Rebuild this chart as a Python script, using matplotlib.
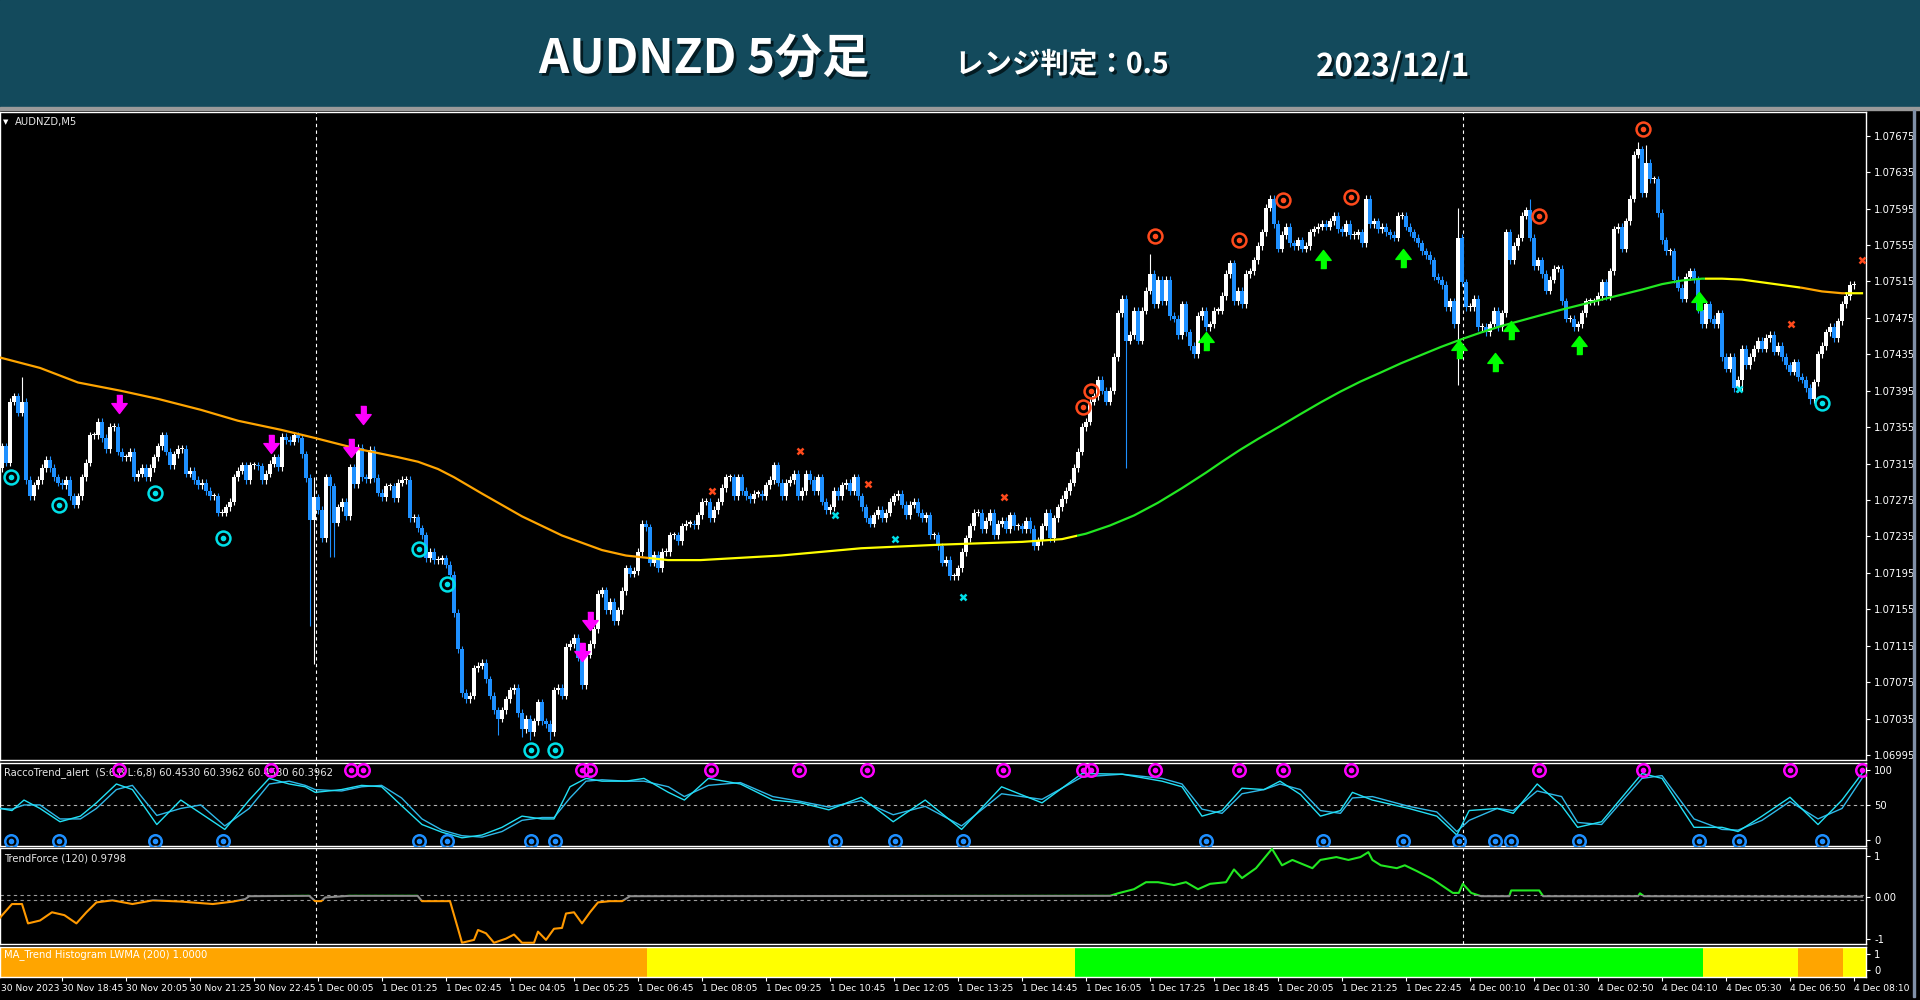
import numpy as np
import matplotlib
matplotlib.use("Agg")
import matplotlib.pyplot as plt
import matplotlib.patheffects as pe
from matplotlib.patches import Rectangle

# ---------------------------------------------------------------------------
# Data (AUDNZD M5, 30 Nov 17:25 .. 4 Dec 08:25)
# prices are in points (1e-5) above 1.07000
# ---------------------------------------------------------------------------
base_price = 1.07
first_open = 320

closes = [
    310, 334, 316, 383, 389, 371, 383, 297, 279, 291,
    297, 310, 319, 310, 300, 294, 291, 297, 279, 270,
    279, 300, 316, 346, 346, 361, 343, 331, 355, 355,
    328, 322, 322, 328, 300, 304, 310, 300, 310, 322,
    334, 346, 328, 313, 325, 331, 331, 304, 307, 297,
    291, 294, 285, 279, 279, 261, 261, 267, 273, 300,
    307, 313, 297, 313, 313, 312, 297, 304, 315, 322,
    311, 344, 341, 339, 346, 343, 325, 299, 253, 278,
    264, 233, 300, 290, 250, 267, 273, 257, 311, 292,
    332, 300, 298, 330, 299, 283, 278, 290, 290, 277,
    294, 297, 297, 255, 256, 244, 236, 211, 218, 209,
    209, 211, 204, 193, 151, 111, 63, 56, 60, 90,
    93, 96, 78, 60, 44, 35, 44, 56, 66, 69,
    41, 23, 35, 20, 32, 53, 32, 29, 20, 66,
    69, 60, 114, 117, 124, 102, 72, 105, 117, 133,
    172, 176, 154, 163, 142, 154,
    # 1 Dec morning onwards
    175, 200, 194, 197, 218, 249, 245, 206, 215, 200,
    218, 218, 236, 236, 230, 246, 249, 249, 247, 258,
    273, 273, 255, 264, 273, 288, 300, 300, 279, 300,
    285, 279, 276, 282, 282, 279, 291, 297, 313, 294,
    279, 294, 297, 304, 279, 285, 304, 297, 285, 300,
    273, 264, 267, 285, 279, 291, 294, 285, 300, 279,
    267, 255, 249, 258, 264, 255, 261, 273, 279, 282,
    270, 258, 270, 273, 261, 255, 258, 236, 236, 224,
    206, 209, 191, 191, 200, 218, 233, 246, 261, 261,
    243, 252, 261, 236, 249, 252, 243, 258, 246, 246,
    243, 252, 243, 224, 230, 246, 261, 233, 255, 267,
    276, 285, 294, 310, 328, 355, 361, 383, 389, 407,
    395, 383, 395, 432, 480, 496, 450, 456, 483, 450,
    483, 505, 523, 490, 517, 493, 517, 477, 474, 456,
    490, 459, 444, 435, 477, 483, 465, 468, 483, 483,
    499, 523, 535, 493, 505, 490,
    # 1 Dec evening and 4 Dec
    523, 526, 538, 554, 569, 596, 606, 578, 551, 566,
    575, 557, 554, 560, 551, 554, 569, 572, 575, 578,
    575, 581, 587, 572, 569, 578, 566, 566, 569, 557,
    606, 578, 581, 572, 575, 569, 566, 563, 587, 587,
    575, 569, 563, 557, 548, 544, 538, 520, 517, 511,
    487, 493, 468, 563, 514, 487, 487, 496, 465, 465,
    459, 468, 483, 465, 480, 569, 538, 554, 563, 587,
    593, 563, 532, 538, 523, 505, 517, 529, 529, 493,
    474, 474, 465, 468, 480, 493, 493, 493, 499, 514,
    499, 526, 572, 575, 551, 581, 606, 654, 660, 612,
    645, 627, 627, 590, 560, 548, 548, 517, 508, 496,
    520, 526, 517, 484, 468, 490, 474, 468, 480, 432,
    419, 432, 398, 407, 441, 423, 432, 441, 450, 441,
    453, 456, 438, 444, 432, 423, 416, 426, 410, 407,
    398, 386, 404, 435, 444, 459, 465, 453, 471, 490,
    499, 511, 511,
]

# long wicks that stand out: bar -> (high, low), None = ordinary wick
long_wicks = {
    6: (410, None), 78: (None, 137), 79: (300, 95), 83: (None, 212),
    84: (None, 212), 125: (None, 17), 131: (None, 15), 133: (None, 12),
    138: (None, 12), 282: (None, 310), 288: (545, None), 365: (596, 401),
    383: (606, None), 410: (668, None), 412: (665, None), 436: (None, 395),
    453: (None, 380),
}

# LWMA(200) line
ma_bars = [0, 10.5, 20, 30.6, 40, 50.7, 60, 70.8, 79.3, 90, 100, 105, 110, 114,
           121, 131, 141, 151, 157, 167.5, 175.6, 195.7, 215.8, 235.9, 256, 266,
           272, 278, 284, 290, 296, 302, 306, 310.5, 315, 320.5, 325.5, 330.6,
           335.6, 340.6, 345.7, 350.7, 355.7, 360.7, 366.2, 370.8, 375.8, 380.8,
           385.8, 390.9, 400.9, 411, 416, 421, 426, 431, 436, 441, 446, 451, 456,
           461, 466]
ma_pts = [432, 420, 404, 395, 386, 374, 362, 352, 343, 331, 322, 317, 309, 300,
          282, 257, 236, 220, 214, 209, 209, 214, 222, 226, 229, 232,
          238, 247, 258, 272, 288, 305, 317, 330, 342, 356, 369, 382,
          394, 405, 415, 425, 434, 443, 452, 459, 466, 472,
          478, 484, 495, 506, 512, 516, 518, 518, 517, 514, 511, 508, 504,
          502, 502]

# MA trend state (histogram + line colour)
trend_edges = [0, 162.7, 269.7, 426.7, 450.6, 461.7, 467]
trend_states = ["down", "flat", "up", "flat", "down", "flat"]

# signal markers on the price chart (bar, points)
dots_cyan = [(3.2, 300), (15.3, 270), (39.3, 283), (56.2, 233), (105.3, 221),
             (112.2, 183), (133.2, 0), (139.2, 0), (456.1, 382)]
dots_red = [(271.2, 377), (273.2, 395), (289.3, 565), (310.3, 560), (321.2, 604),
            (338.2, 608), (385.2, 587), (411.2, 682)]
arrows_down = [(30.3, 380), (68.3, 336), (88.3, 332), (91.2, 368), (146.1, 108),
               (148.1, 142)]
arrows_up = [(302.1, 450), (331.2, 540), (351.2, 541), (365.2, 441), (374.2, 426),
             (378.2, 462), (395.2, 445), (425.2, 494)]
cross_red = [(178.4, 285), (200.4, 329), (217.4, 293), (251.4, 278), (448.3, 468),
             (466, 538)]
cross_cyan = [(209.2, 258), (224.2, 232), (241.2, 169), (435.2, 397)]

# RaccoTrend_alert oscillator
racco_bars = [0.5, 3.5, 6.5, 10.5, 15.5, 20.6, 24.6, 29.6, 33.6, 39.7,
              45.7, 50.7, 56.7, 62.8, 67.8, 72.8, 76.8, 79.3, 85.9, 90.9,
              95.9, 100.9, 106, 111, 116, 121, 126, 131, 136, 139,
              143, 147, 151, 157, 161.5, 167.6, 171.6, 177.6, 185.6, 193.7,
              200.7, 207.7, 215.8, 223.8, 231.8, 240.9, 250.9, 261, 271, 281,
              291, 296, 301, 306, 311, 316.5, 320.5, 325.6, 330.6, 335.6,
              338.6, 343.6, 352.7, 359.7, 364.7, 367.8, 374.8, 378.8, 384.8, 390.9,
              394.9, 400.9, 411, 416, 424, 431, 435, 441, 448, 455,
              461, 466]
racco_main = [45, 42, 57, 45, 26, 34, 53, 80, 72, 22,
              57, 38, 15, 57, 88, 80, 76, 68, 72, 78,
              76, 49, 22, 11, 3, 7, 18, 34, 30, 30,
              76, 88, 84, 84, 88, 68, 57, 88, 80, 57,
              53, 43, 61, 26, 57, 15, 76, 53, 95, 94,
              84, 76, 34, 42, 74, 72, 84, 65, 34, 42,
              68, 57, 45, 34, 7, 42, 45, 38, 80, 49,
              18, 26, 95, 88, 18, 18, 12, 34, 61, 22,
              57, 95]
racco_signal = [45, 44, 50, 50, 30, 30, 45, 72, 78, 35,
                45, 50, 20, 45, 80, 84, 78, 72, 70, 76,
                78, 60, 30, 14, 6, 4, 12, 28, 32, 32,
                60, 84, 86, 84, 84, 76, 62, 78, 82, 62,
                55, 47, 56, 36, 48, 20, 66, 58, 90, 94,
                88, 80, 44, 38, 66, 72, 80, 72, 42, 38,
                60, 62, 48, 40, 12, 28, 45, 42, 70, 62,
                25, 22, 88, 92, 30, 15, 14, 28, 55, 30,
                45, 88]
racco_top = [30.3, 68.3, 88.3, 91.2, 146.1, 148.1, 178.3, 200.2, 217.2, 251.2,
             271.2, 273.2, 289.3, 310.3, 321.2, 338.2, 385.2, 411.2, 448.1, 466]
racco_bottom = [3.2, 15.3, 39.3, 56.2, 105.3, 112.2, 133.2, 139.2, 209.2, 224.2,
                241.2, 302.1, 331.2, 351.2, 365.2, 374.2, 378.2, 395.2, 425.2,
                435.2, 456.1]

# TrendForce(120)
tf_bars = [0.5, 3.5, 6, 7.5, 10.5, 13.5, 16.6, 19.6, 22.1, 24.6,
           28.6, 33.6, 38.7, 45.7, 53.7, 58.8, 61.8, 62.8, 77.8, 79.3,
           80.8, 81.8, 87.9, 104.9, 106, 113, 115, 116, 119, 120,
           122, 124, 127, 129, 131, 134, 135, 137, 139, 141,
           142, 144, 146, 148, 150, 153, 156, 158, 278, 280,
           284, 287, 290, 294, 297, 300, 303, 307, 309, 311,
           314.5, 318.5, 321, 323.6, 328.6, 330.6, 334.6, 337.6, 340.6, 342.6,
           343.6, 345.7, 349.7, 351.7, 354.7, 358.7, 363.7, 365.2, 366.2, 368.3,
           370.8, 377.8, 378.3, 385.3, 386.3, 410, 410.5, 411.5, 466]
tf_vals = [-0.49, -0.16, -0.16, -0.63, -0.56, -0.36, -0.43, -0.63, -0.36, -0.12,
           -0.07, -0.16, -0.07, -0.10, -0.16, -0.10, -0.04, 0.03, 0.04, -0.09,
           -0.09, 0.0, 0.04, 0.04, -0.09, -0.09, -0.76, -1.1, -1.03, -0.79,
           -0.87, -1.1, -1.0, -0.9, -1.1, -1.1, -0.83, -1.03, -0.76, -0.74,
           -0.39, -0.36, -0.63, -0.36, -0.12, -0.09, -0.09, 0.03, 0.04, 0.1,
           0.2, 0.37, 0.37, 0.3, 0.37, 0.2, 0.33, 0.37, 0.68, 0.47,
           0.71, 1.18, 0.78, 0.91, 0.71, 0.91, 0.98, 0.91, 0.98, 1.1,
           0.91, 0.78, 0.71, 0.78, 0.64, 0.44, 0.11, 0.11, 0.33, 0.11,
           0.03, 0.03, 0.17, 0.17, 0.03, 0.03, 0.1, 0.03, 0.02]

# time axis
time_labels = ["30 Nov 2023", "30 Nov 18:45", "30 Nov 20:05", "30 Nov 21:25",
               "30 Nov 22:45", "1 Dec 00:05", "1 Dec 01:25", "1 Dec 02:45",
               "1 Dec 04:05", "1 Dec 05:25", "1 Dec 06:45", "1 Dec 08:05",
               "1 Dec 09:25", "1 Dec 10:45", "1 Dec 12:05", "1 Dec 13:25",
               "1 Dec 14:45", "1 Dec 16:05", "1 Dec 17:25", "1 Dec 18:45",
               "1 Dec 20:05", "1 Dec 21:25", "1 Dec 22:45", "4 Dec 00:10",
               "4 Dec 01:30", "4 Dec 02:50", "4 Dec 04:10", "4 Dec 05:30",
               "4 Dec 06:50", "4 Dec 08:10"]
day_breaks = [79.5, 366.3]

# ---------------------------------------------------------------------------
BULL, BEAR = "#FFFFFF", "#1E90FF"
TEAL = "#134A5C"
state_color = {"down": "#FFA500", "flat": "#FFFF00", "up": "#00FF00"}
line_color = {"down": "#FFA500", "flat": "#FFFF00", "up": "#22E822"}
FS = 7.2
XMIN, XMAX = 0.5, 467

plt.rcParams["font.family"] = ["DejaVu Sans"]


def px(points):
    return base_price + np.asarray(points, dtype=float) / 1e5


fig = plt.figure(figsize=(19.2, 10), dpi=100, facecolor="black")
W = 1866 / 1920


def frame(top, bottom):
    return [0, 1 - bottom / 1000, W, (bottom - top) / 1000]


ax = fig.add_axes(frame(112, 760))
ax_r = fig.add_axes(frame(763, 846), sharex=ax)
ax_t = fig.add_axes(frame(848, 944), sharex=ax)
ax_h = fig.add_axes(frame(947, 977), sharex=ax)

for a in (ax, ax_r, ax_t, ax_h):
    a.set_facecolor("black")
    for s in a.spines.values():
        s.set_color("white")
        s.set_linewidth(1)
    a.yaxis.tick_right()
    a.tick_params(axis="y", colors="white", labelsize=FS, length=3, width=0.8, pad=3)
    a.tick_params(axis="x", bottom=False, labelbottom=False)
ax.set_xlim(XMIN, XMAX)

# ---- title band ----
fig.patches.append(Rectangle((0, 1 - 0.107), 1, 0.107, transform=fig.transFigure,
                             color=TEAL, zorder=0))
fig.patches.append(Rectangle((0, 1 - 0.110), 1, 0.003, transform=fig.transFigure,
                             color="#9A9A9A", zorder=0))
fig.patches.append(Rectangle((1913 / 1920, 0.003), 0.0008, 0.887,
                             transform=fig.transFigure, color="#8090A8", zorder=0))
shadow = [pe.withSimplePatchShadow(offset=(2, -2), shadow_rgbFace="#03161C", alpha=0.9)]
jp = ["Noto Sans CJK JP", "DejaVu Sans"]
fig.text(539 / 1920, 1 - 0.059, "AUDNZD 5分足", color="white", fontsize=34,
         fontweight="bold", family=jp, ha="left", va="center", path_effects=shadow)
fig.text(955 / 1920, 1 - 0.065, "レンジ判定：0.5", color="white", fontsize=20.5,
         fontweight="bold", family=jp, ha="left", va="center", path_effects=shadow)
fig.text(1316 / 1920, 1 - 0.067, "2023/12/1", color="white", fontsize=22.5,
         fontweight="bold", family=jp, ha="left", va="center", path_effects=shadow)

# ---- candles ----
c = px(closes)
o = np.r_[px(first_open), c[:-1]]
x = np.arange(len(c))
wick = 4e-5
hi = np.maximum(o, c) + wick
lo = np.minimum(o, c) - wick
for b, (h, l) in long_wicks.items():
    if b < len(c):
        if h is not None:
            hi[b] = px(h)
        if l is not None:
            lo[b] = px(l)
up = c >= o
cols = np.where(up, BULL, BEAR)
ax.vlines(x, lo, hi, colors=cols, lw=0.8, zorder=2)
body = np.maximum(np.abs(c - o), 1.3e-5)
ax.bar(x, body, bottom=np.minimum(o, c), width=0.8, color=cols, linewidth=0, zorder=2)

# ---- MA line, coloured by trend state ----
ymin, ymax = px(-10.5), px(701)
for (x0, x1), st in zip(zip(trend_edges[:-1], trend_edges[1:]), trend_states):
    ln, = ax.plot(ma_bars, px(ma_pts), color=line_color[st], lw=1.6, zorder=3)
    ln.set_clip_path(Rectangle((x0, 1.0), x1 - x0, 0.2, transform=ax.transData))

# ---- markers ----
arrow_dn = [(-0.3, 1), (0.3, 1), (0.3, 0.1), (0.85, 0.1), (0, -1), (-0.85, 0.1), (-0.3, 0.1)]
arrow_up = [(vx, -vy) for vx, vy in arrow_dn]


def rings(a, xs, ys, color, size=10):
    a.plot(xs, ys, "o", ms=size, mfc="none", mec=color, mew=1.8, ls="none", zorder=5)
    a.plot(xs, ys, "o", ms=3, color=color, ls="none", zorder=5)


def unzip(pairs):
    return [p[0] for p in pairs], px([p[1] for p in pairs])


rings(ax, *unzip(dots_cyan), "#00E0E8")
rings(ax, *unzip(dots_red), "#FF4A1C")
ax.plot(*unzip(arrows_down), marker=arrow_dn, ms=13, color="#FF00FF", ls="none", zorder=5)
ax.plot(*unzip(arrows_up), marker=arrow_up, ms=13, color="#00FF00", ls="none", zorder=5)
ax.plot(*unzip(cross_red), "x", ms=5, mew=1.8, color="#FF4A1C", ls="none", zorder=5)
ax.plot(*unzip(cross_cyan), "x", ms=5, mew=1.8, color="#00E0E8", ls="none", zorder=5)

ax.set_ylim(ymin, ymax)
price_ticks = np.arange(6995, 7676, 40) / 1e5 + 1.0
ax.set_yticks(price_ticks, [f"{t:.5f}" for t in price_ticks])
ax.text(0.0078, 0.985, "AUDNZD,M5", transform=ax.transAxes, color="#E6E6E6",
        fontsize=FS, ha="left", va="center")
ax.text(0.0015, 0.985, "▼", transform=ax.transAxes, color="white", fontsize=5,
        ha="left", va="center")

# ---- RaccoTrend panel ----
ax_r.plot(racco_bars, racco_signal, color="#2FB8E8", lw=1.0, zorder=3)
ax_r.plot(racco_bars, racco_main, color="#22E0F5", lw=1.0, zorder=3)
ax_r.axhline(50, color="#B0B0B0", lw=0.8, ls=(0, (3, 3)))
rings(ax_r, racco_top, [100] * len(racco_top), "#FF00FF", size=9)
rings(ax_r, racco_bottom, [-2] * len(racco_bottom), "#1E8FFF", size=9)
ax_r.set_ylim(-8.7, 110)
ax_r.set_yticks([0, 50, 100], ["0", "50", "100"])
ax_r.text(0.002, 0.88, "RaccoTrend_alert  (S:6,8 L:6,8) 60.4530 60.3962 60.4530 60.3962",
          transform=ax_r.transAxes, color="#E6E6E6", fontsize=FS, ha="left", va="center")

# ---- TrendForce panel ----
bands = [(-5, -0.06, "#FF9900"), (-0.06, 0.06, "#8A8A8A"), (0.06, 5, "#22E822")]
for y0, y1, col in bands:
    ln, = ax_t.plot(tf_bars, tf_vals, color=col, lw=1.5, zorder=3)
    ln.set_clip_path(Rectangle((-10, y0), 500, y1 - y0, transform=ax_t.transData))
for lvl in (0.06, -0.06):
    ax_t.axhline(lvl, color="#9A9A9A", lw=0.8, ls=(0, (3, 3)), zorder=1)
ax_t.set_ylim(-1.13, 1.2)
ax_t.set_yticks([-1, 0, 1], ["-1", "0.00", "1"])
ax_t.text(0.002, 0.89, "TrendForce (120) 0.9798", transform=ax_t.transAxes,
          color="#E6E6E6", fontsize=FS, ha="left", va="center")

# ---- MA_Trend histogram ----
for (x0, x1), st in zip(zip(trend_edges[:-1], trend_edges[1:]), trend_states):
    ax_h.axvspan(x0 - 0.5, x1, color=state_color[st], lw=0, zorder=1)
ax_h.set_ylim(-0.44, 1.44)
ax_h.set_yticks([0, 1], ["0", "1"])
ax_h.text(0.002, 0.75, "MA_Trend Histogram LWMA (200) 1.0000", transform=ax_h.transAxes,
          color="white", fontsize=FS, ha="left", va="center", zorder=3)

# ---- day separators ----
for a in (ax, ax_r, ax_t):
    for b in day_breaks:
        a.axvline(b, color="white", lw=0.8, ls=(0, (3, 3)), zorder=1)

# ---- time axis ----
XFS = 6.6
tick_bars = [16 * k for k in range(1, len(time_labels))]
ax_h.set_xticks(tick_bars, time_labels[1:])
ax_h.tick_params(axis="x", bottom=True, labelbottom=True, colors="white",
                 labelsize=XFS, length=3, width=0.8, pad=2)
for lbl in ax_h.get_xticklabels():
    lbl.set_ha("left")
fig.text(1 / 1920, 1 - 0.9842, time_labels[0], color="white", fontsize=XFS,
         ha="left", va="top")
ax.set_xlim(XMIN, XMAX)

fig.savefig("out.png", dpi=100, facecolor="black")
